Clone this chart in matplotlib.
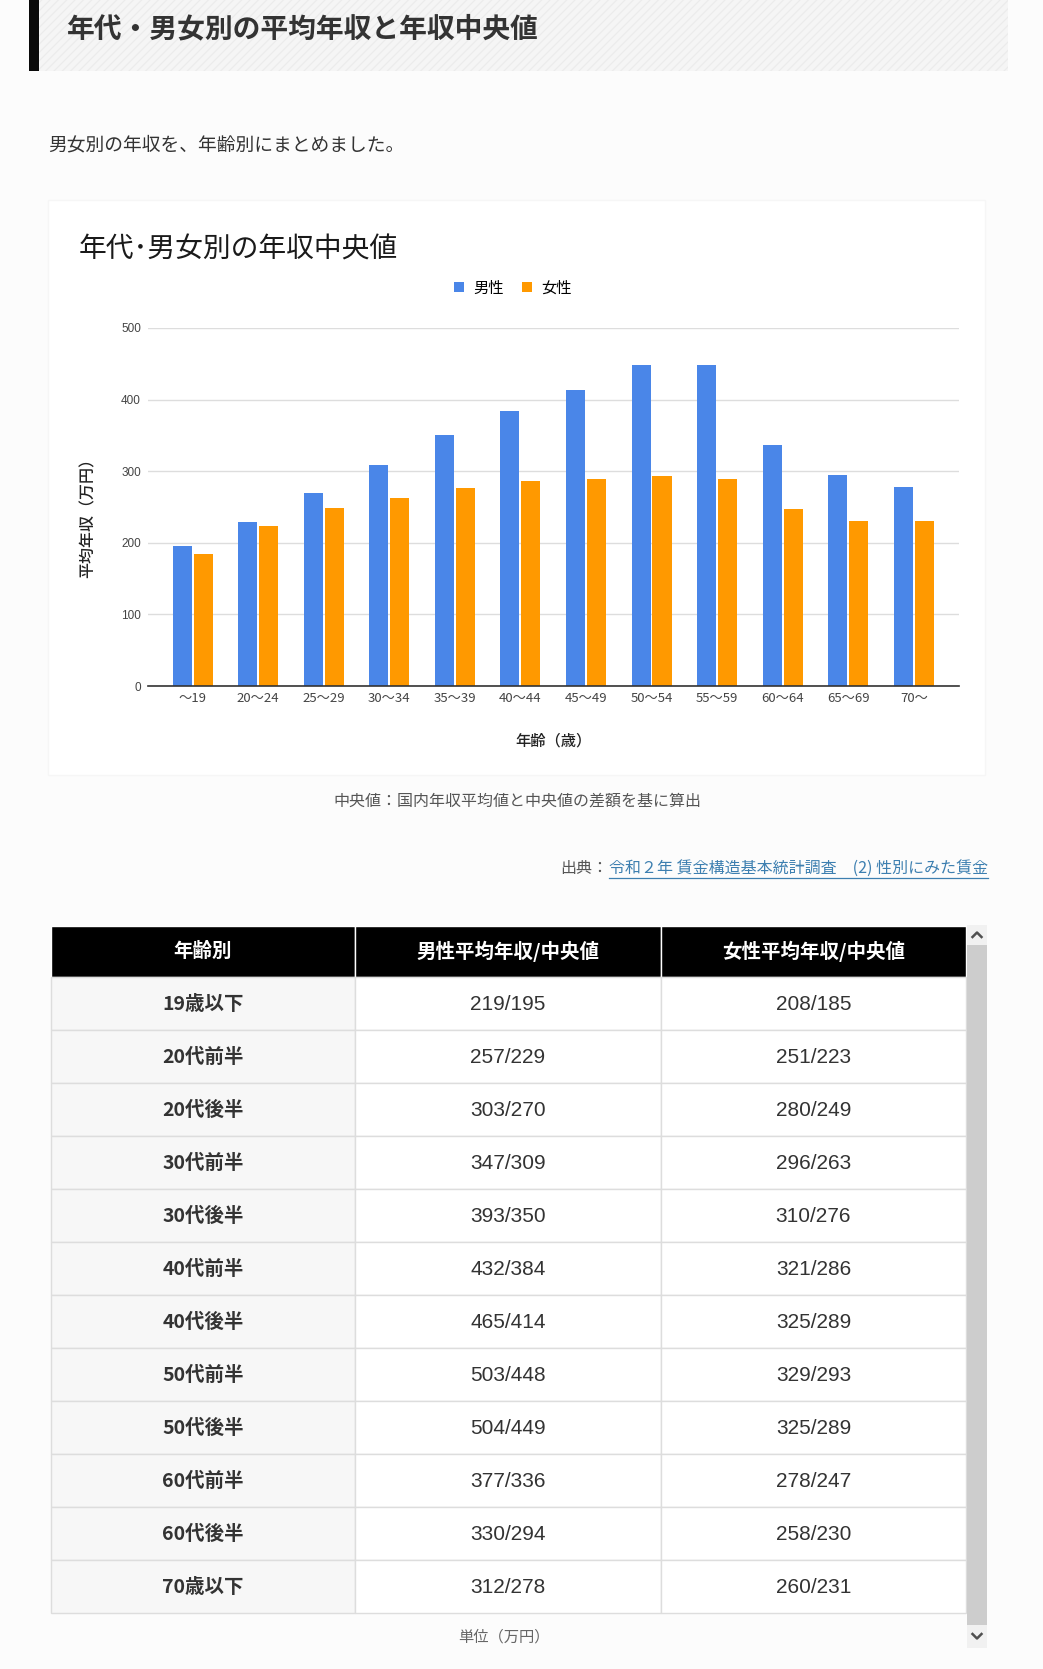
import matplotlib
matplotlib.use('Agg')
import matplotlib.pyplot as plt
from matplotlib.patches import Rectangle
import numpy as np

JP = ['Noto Sans CJK JP', 'DejaVu Sans']
NUM = ['Liberation Sans', 'Noto Sans CJK JP', 'DejaVu Sans']
plt.rcParams['font.family'] = JP
plt.rcParams['hatch.linewidth'] = 0.8

# ---------------- data ----------------
age_ticks = ['〜19', '20〜24', '25〜29', '30〜34', '35〜39', '40〜44',
             '45〜49', '50〜54', '55〜59', '60〜64', '65〜69', '70〜']
male_median = [195, 229, 270, 309, 350, 384, 414, 448, 449, 336, 294, 278]
female_median = [185, 223, 249, 263, 276, 286, 289, 293, 289, 247, 230, 231]
male_mean = [219, 257, 303, 347, 393, 432, 465, 503, 504, 377, 330, 312]
female_mean = [208, 251, 280, 296, 310, 321, 325, 329, 325, 278, 258, 260]
row_labels = ['19歳以下', '20代前半', '20代後半', '30代前半', '30代後半', '40代前半',
              '40代後半', '50代前半', '50代後半', '60代前半', '60代後半', '70歳以下']
header = ['年齢別', '男性平均年収/中央値', '女性平均年収/中央値']
series_names = ['男性', '女性']
yticks = [0, 100, 200, 300, 400, 500]

page_title = '年代・男女別の平均年収と年収中央値'
intro = '男女別の年収を、年齢別にまとめました。'
chart_title = '年代･男女別の年収中央値'
ylabel = '平均年収（万円）'
xlabel = '年齢（歳）'
note = '中央値：国内年収平均値と中央値の差額を基に算出'
source_prefix = '出典：'
source_link = '令和２年 賃金構造基本統計調査　(2) 性別にみた賃金'
unit = '単位（万円）'

BLUE = '#4a86e8'
ORANGE = '#ff9900'

W, H = 1043, 1669
fig = plt.figure(figsize=(W / 100, H / 100), dpi=100)
fig.patch.set_facecolor('#fcfcfc')

bg = fig.add_axes([0, 0, 1, 1])
bg.set_xlim(0, W)
bg.set_ylim(H, 0)
bg.axis('off')

# ---- title banner ----
bg.add_patch(Rectangle((39, 0), 969, 71, facecolor='#f5f5f5', edgecolor='#ebebeb',
                       hatch='////', linewidth=0))
bg.add_patch(Rectangle((29, 0), 10, 71, facecolor='#0a0a0a', edgecolor='none'))
bg.text(67, 29, page_title, fontsize=20, fontweight='bold', color='#333333',
        ha='left', va='center', family=JP)

bg.text(48, 145, intro, fontsize=13.5, color='#333333', ha='left', va='center', family=JP)

# ---- chart card ----
bg.add_patch(Rectangle((48, 200), 937, 575, facecolor='white', edgecolor='#f6f6f6', linewidth=1))
bg.text(79, 249, chart_title, fontsize=20, color='#1a1a1a', ha='left', va='center',
        fontweight='normal', family=JP)

ax = fig.add_axes([148 / W, 1 - 686 / H, (959 - 148) / W, (686 - 328) / H])
ax.set_facecolor('white')
x = np.arange(len(age_ticks))
b1 = ax.bar(x - 0.16, male_median, width=0.29, color=BLUE, label=series_names[0], zorder=3)
b2 = ax.bar(x + 0.16, female_median, width=0.29, color=ORANGE, label=series_names[1], zorder=3)
ax.set_xlim(-0.68, 11.69)
ax.set_ylim(0, 500)
ax.set_yticks(yticks)
ax.set_yticklabels([str(v) for v in yticks], fontsize=8.5, color='#444444', family=NUM)
ax.set_xticks(x)
ax.set_xticklabels(age_ticks, fontsize=9.5, color='#444444', family=JP)
ax.tick_params(axis='both', length=0)
ax.tick_params(axis='y', pad=5)
ax.tick_params(axis='x', pad=4)
ax.yaxis.grid(True, color='#dddddd', linewidth=1, zorder=0)
ax.set_axisbelow(True)
for s in ['top', 'right', 'left']:
    ax.spines[s].set_visible(False)
ax.spines['bottom'].set_color('#333333')
ax.spines['bottom'].set_linewidth(1.2)
ax.spines['bottom'].set_zorder(4)

fig.legend(handles=[b1, b2], labels=series_names, loc='center',
           bbox_to_anchor=(513 / W, 1 - 288 / H), ncol=2, frameon=False,
           handlelength=0.65, handleheight=0.65, handletextpad=0.6, columnspacing=1.2,
           prop={'family': JP, 'size': 11})

bg.text(88, 514, ylabel, fontsize=11.5, color='#222222', rotation=90,
        ha='center', va='center', fontweight='medium', family=JP)
bg.text(553, 741, xlabel, fontsize=11, color='#222222', ha='center', va='center',
        fontweight='medium', family=JP)

bg.text(517, 801, note, fontsize=11.5, color='#555555', ha='center', va='center', family=JP)

link = bg.text(988, 868, source_link, fontsize=11.5, color='#3d7fb0', ha='right',
               va='center', family=JP)
fig.canvas.draw()
bb = link.get_window_extent(renderer=fig.canvas.get_renderer())
lx0 = bb.x0
lx1 = bb.x1
bg.plot([lx0, lx1], [878, 878], color='#3d7fb0', linewidth=0.9)
bg.text(lx0 - 1, 868, source_prefix, fontsize=11.5, color='#555555', ha='right',
        va='center', family=JP)

# ---- table ----
col_edges = [51, 355, 661, 966]
top = 926
head_h = 51
row_h = 53
for c in range(3):
    bg.add_patch(Rectangle((col_edges[c], top), col_edges[c + 1] - col_edges[c], head_h,
                           facecolor='#000000', edgecolor='white', linewidth=1))
    bg.text((col_edges[c] + col_edges[c + 1]) / 2, top + head_h / 2, header[c],
            fontsize=14, fontweight='bold', color='white', ha='center', va='center', family=JP)

for i, lab in enumerate(row_labels):
    y0 = top + head_h + row_h * i
    bg.add_patch(Rectangle((col_edges[0], y0), col_edges[1] - col_edges[0], row_h,
                           facecolor='#f7f7f7', edgecolor='#dddddd', linewidth=1))
    bg.add_patch(Rectangle((col_edges[1], y0), col_edges[2] - col_edges[1], row_h,
                           facecolor='white', edgecolor='#dddddd', linewidth=1))
    bg.add_patch(Rectangle((col_edges[2], y0), col_edges[3] - col_edges[2], row_h,
                           facecolor='white', edgecolor='#dddddd', linewidth=1))
    yc = y0 + row_h / 2 + 1
    bg.text((col_edges[0] + col_edges[1]) / 2, yc, lab, fontsize=14, fontweight='bold',
            color='#333333', ha='center', va='center', family=JP)
    bg.text((col_edges[1] + col_edges[2]) / 2, yc, f'{male_mean[i]}/{male_median[i]}',
            fontsize=15, color='#333333', ha='center', va='center', family=NUM)
    bg.text((col_edges[2] + col_edges[3]) / 2, yc, f'{female_mean[i]}/{female_median[i]}',
            fontsize=15, color='#333333', ha='center', va='center', family=NUM)

bg.text(504, 1637, unit, fontsize=11, color='#666666', ha='center', va='center', family=JP)

# ---- scrollbar ----
bg.add_patch(Rectangle((967, 925), 20, 723, facecolor='#f1f1f1', edgecolor='none'))
bg.add_patch(Rectangle((967, 945), 20, 680, facecolor='#cdcdcd', edgecolor='none'))
bg.plot([972.5, 977, 981.5], [937, 932.5, 937], color='#505050', linewidth=1.8)
bg.plot([972.5, 977, 981.5], [1634, 1638.5, 1634], color='#505050', linewidth=1.8)

fig.savefig('out.png', dpi=100, facecolor=fig.get_facecolor())
